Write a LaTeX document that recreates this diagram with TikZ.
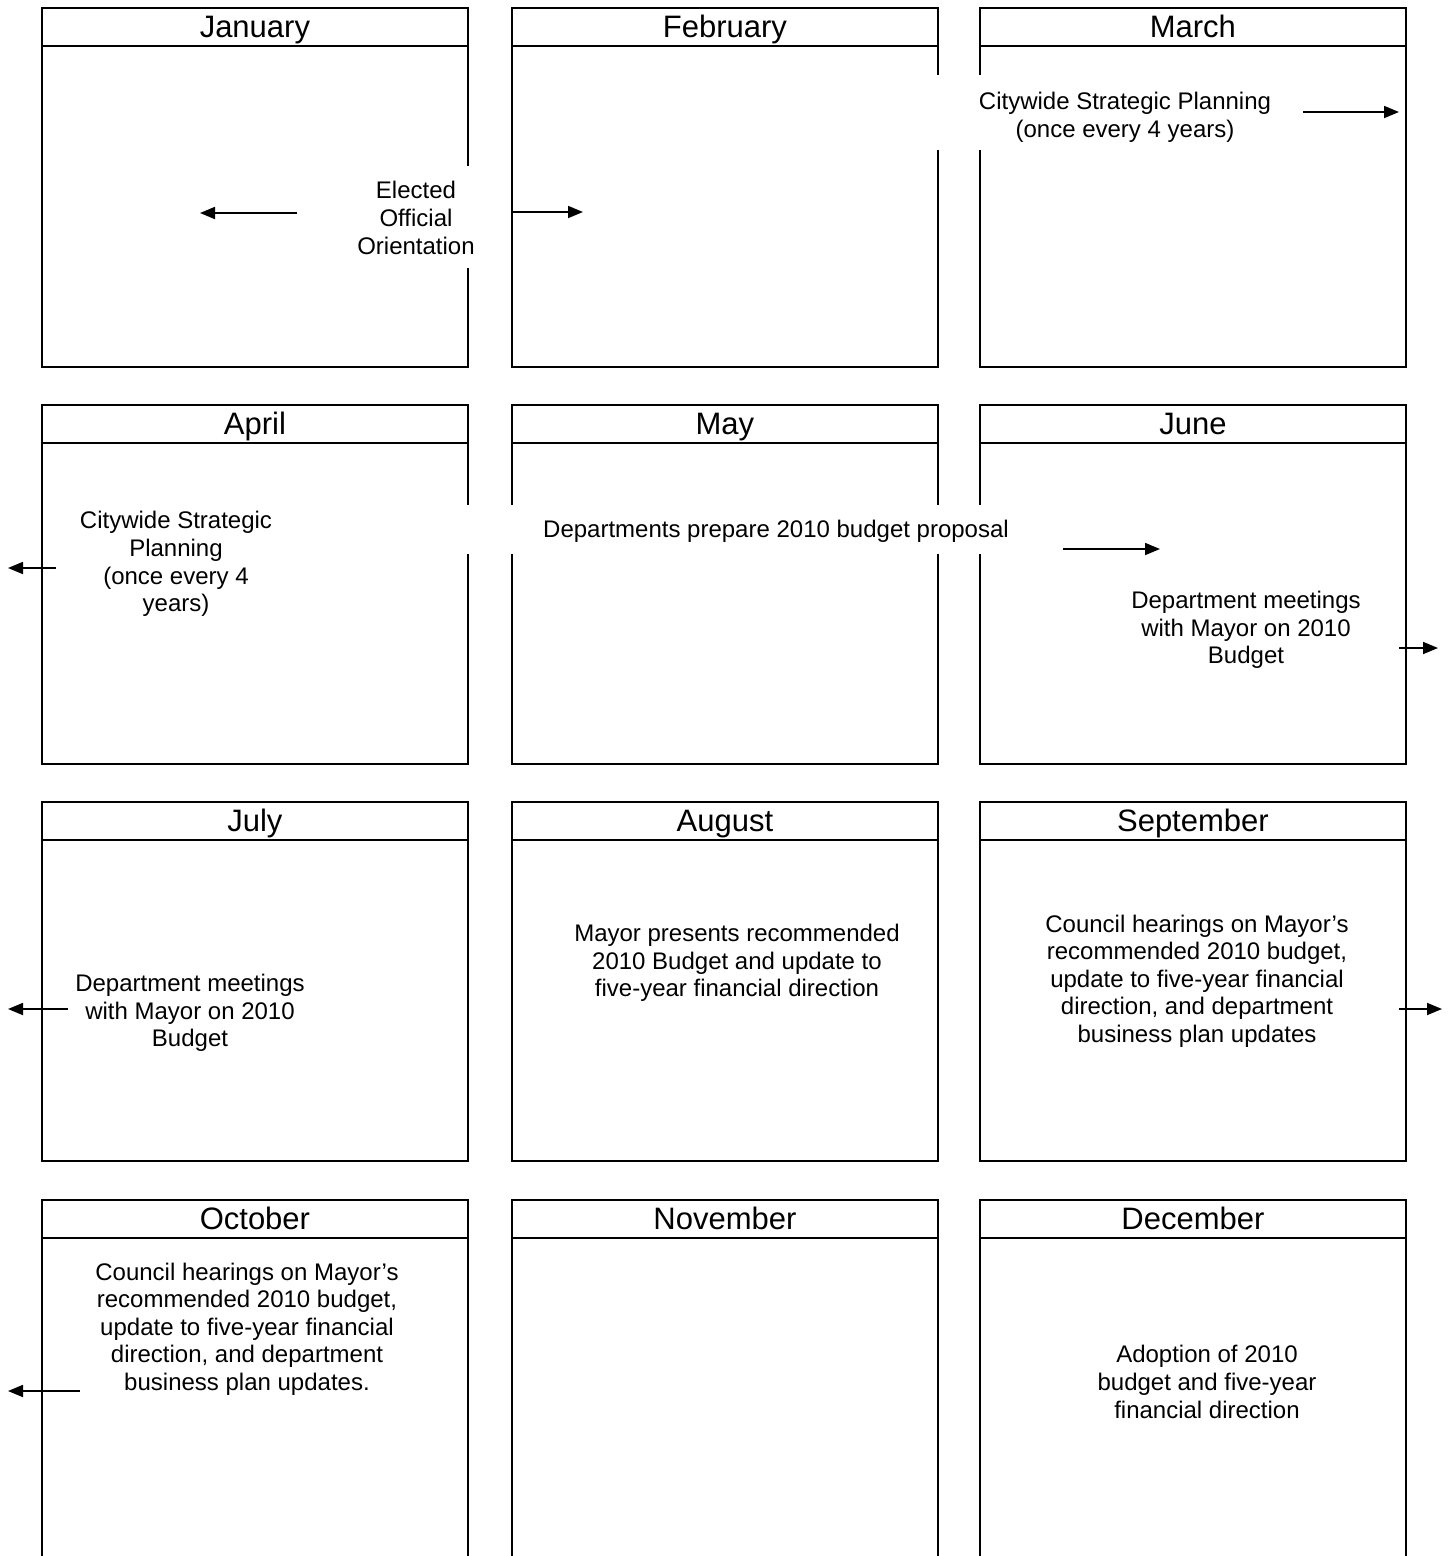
\documentclass[tikz,border=0pt]{standalone}
\usepackage{fontspec}
\setmainfont{Liberation Sans}
\usetikzlibrary{arrows.meta}
\begin{document}
\begin{tikzpicture}[x=1pt,y=-1pt,
  lw/.style={line width=1.8pt},
  mbox/.style={draw,lw,rectangle,inner sep=0pt,minimum width=426pt,minimum height=359pt,anchor=north west},
  openbox/.style={draw,lw,rectangle,inner sep=0pt,minimum width=426pt,minimum height=420pt,anchor=north west},
  mhead/.style={draw,lw,rectangle,inner sep=0pt,minimum width=426pt,minimum height=38pt,anchor=north west,
    text height=28pt,text depth=6pt,font=\fontsize{31}{36}\selectfont},
  body/.style={inner sep=0pt,align=center,font=\fontsize{24}{27.6}\selectfont},
  mask/.style={fill=white},
  arr/.style={lw,-{Triangle[length=15pt,width=12pt]}}]
% month boxes
\node[mbox] (jan) at (41,7) {};
\node[mbox] (feb) at (511,7) {};
\node[mbox] (mar) at (979,7) {};
\node[mbox] (apr) at (41,404) {};
\node[mbox] (may) at (511,404) {};
\node[mbox] (jun) at (979,404) {};
\node[mbox] (jul) at (41,801) {};
\node[mbox] (aug) at (511,801) {};
\node[mbox] (sep) at (979,801) {};
\node[openbox] (oct) at (41,1199) {};
\node[openbox] (nov) at (511,1199) {};
\node[openbox] (dec) at (979,1199) {};
% headers
\node[mhead] (janh) at (41,7) {January};
\node[mhead] (febh) at (511,7) {February};
\node[mhead] (marh) at (979,7) {March};
\node[mhead] (aprh) at (41,404) {April};
\node[mhead] (mayh) at (511,404) {May};
\node[mhead] (junh) at (979,404) {June};
\node[mhead] (julh) at (41,801) {July};
\node[mhead] (augh) at (511,801) {August};
\node[mhead] (seph) at (979,801) {September};
\node[mhead] (octh) at (41,1199) {October};
\node[mhead] (novh) at (511,1199) {November};
\node[mhead] (dech) at (979,1199) {December};
% masks behind texts that span borders
\fill[mask] (305,166) rectangle (509,268);
\fill[mask] (925,75) rectangle (1300,150);
\fill[mask] (455,505) rectangle (1050,554);
% texts
\node[body] (eoo) at (416,218) {Elected\\Official\\Orientation};
\node[body] (csp1) at (1125,117) {Citywide Strategic Planning\\(once every 4 years)};
\node[body] (csp2) at (176,564) {Citywide Strategic\\Planning\\(once every 4\\years)};
\node[body] (dep) at (776,531) {Departments prepare 2010 budget proposal};
\node[body] (dm1) at (1246,630) {Department meetings\\with Mayor on 2010\\Budget};
\node[body] (dm2) at (190,1013) {Department meetings\\with Mayor on 2010\\Budget};
\node[body] (mpr) at (737,963) {Mayor presents recommended\\2010 Budget and update to\\five-year financial direction};
\node[body] (ch1) at (1197,981) {Council hearings on Mayor’s\\recommended 2010 budget,\\update to five-year financial\\direction, and department\\business plan updates};
\node[body] (ch2) at (247,1329) {Council hearings on Mayor’s\\recommended 2010 budget,\\update to five-year financial\\direction, and department\\business plan updates.};
\node[body] (adp) at (1207,1382) {Adoption of 2010\\budget and five-year\\financial direction};
% arrow end points
\coordinate (a1s) at (297,213); \coordinate (a1e) at (200,213);
\coordinate (a2s) at (512,212); \coordinate (a2e) at (583,212);
\coordinate (a3s) at (1303,112); \coordinate (a3e) at (1399,112);
\coordinate (a4s) at (56,568); \coordinate (a4e) at (8,568);
\coordinate (a5s) at (1063,549); \coordinate (a5e) at (1160,549);
\coordinate (a6s) at (1399,648); \coordinate (a6e) at (1438,648);
\coordinate (a7s) at (68,1009); \coordinate (a7e) at (8,1009);
\coordinate (a8s) at (1399,1009); \coordinate (a8e) at (1442,1009);
\coordinate (a9s) at (80,1391); \coordinate (a9e) at (8,1391);
\draw[arr] (a1s) -- (a1e);
\draw[arr] (a2s) -- (a2e);
\draw[arr] (a3s) -- (a3e);
\draw[arr] (a4s) -- (a4e);
\draw[arr] (a5s) -- (a5e);
\draw[arr] (a6s) -- (a6e);
\draw[arr] (a7s) -- (a7e);
\draw[arr] (a8s) -- (a8e);
\draw[arr] (a9s) -- (a9e);
\pgfresetboundingbox
\useasboundingbox (0,0) rectangle (1450,1556);
\end{tikzpicture}
\end{document}
